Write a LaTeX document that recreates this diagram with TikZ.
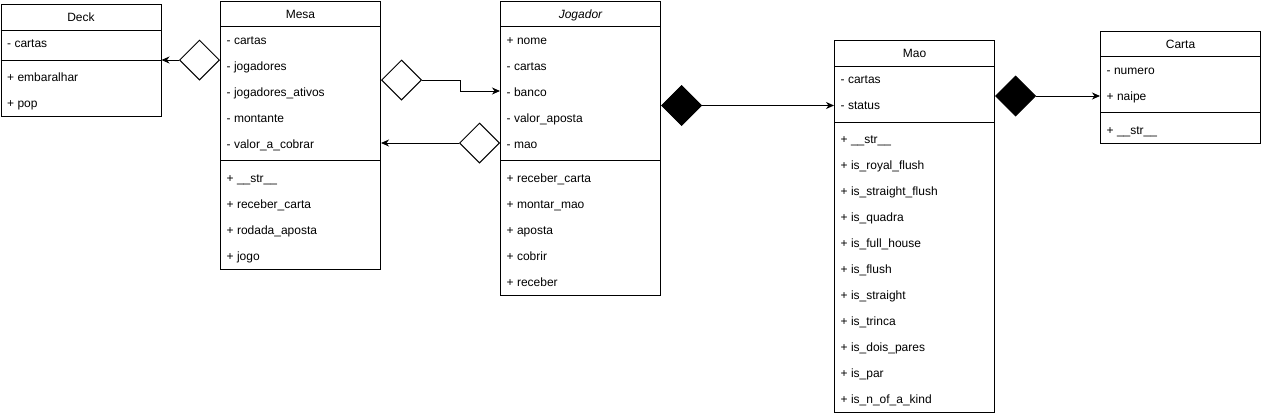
\documentclass[tikz,border=0pt]{standalone}
\usepackage{fontspec}
\setmainfont{Liberation Sans}
\usetikzlibrary{shapes.geometric,arrows.meta}
\tikzset{
 box/.style={draw, line width=1pt, minimum width=160pt, inner sep=0pt, anchor=north west},
 ttl/.style={font=\fontsize{12}{14}\selectfont, inner sep=0pt, anchor=base},
 mem/.style={font=\fontsize{12}{14}\selectfont, inner sep=0pt, anchor=base west},
 sepline/.style={line width=1pt},
 odia/.style={diamond, draw, fill=white, line width=1pt, minimum width=40pt, minimum height=40pt, inner sep=0pt},
 fdia/.style={odia, fill=black},
 arr/.style={line width=1pt, -{Stealth[length=8pt,width=7pt,inset=2.5pt]}},
}
\newcommand{\umlclass}[8]{%
 \pgfmathsetmacro\hh{26+26*#5+8+26*#7}%
 \node[box, minimum height=\hh pt] (#1) at (#2,#3) {};
 \node[ttl] (#1-t) at ([yshift=-17.5pt]#1.north) {#4};
 \draw[sepline] ([yshift=-26pt]#1.north west) -- ([yshift=-26pt]#1.north east);
 \foreach \t [count=\i] in {#6} {\node[mem] (#1-a\i) at ([xshift=6.5pt,yshift={-(17.5+26*\i)*1pt}]#1.north west) {\t};}
 \draw[sepline] ([yshift={-(30+26*#5)*1pt}]#1.north west) -- ([yshift={-(30+26*#5)*1pt}]#1.north east);
 \foreach \t [count=\i] in {#8} {\node[mem] (#1-m\i) at ([xshift=6.5pt,yshift={-(25.5+26*#5+26*\i)*1pt}]#1.north west) {\t};}
}
\begin{document}
\begin{tikzpicture}[x=1pt,y=-1pt]
\useasboundingbox (0,0) rectangle (1261,416);
\umlclass{deck}{0.5}{4}{Deck}{1}{- cartas}{2}{+ embaralhar,+ pop}
\umlclass{mesa}{220}{0.5}{Mesa}{5}{- cartas,- jogadores,- jogadores\_ativos,- montante,- valor\_a\_cobrar}{4}{+ \_\_str\_\_,+ receber\_carta,+ rodada\_aposta,+ jogo}
\umlclass{jog}{500}{0.5}{\itshape Jogador}{5}{+ nome,- cartas,- banco,- valor\_aposta,- mao}{5}{+ receber\_carta,+ montar\_mao,+ aposta,+ cobrir,+ receber}
\umlclass{mao}{834}{40}{Mao}{2}{- cartas,- status}{11}{+ \_\_str\_\_,+ is\_royal\_flush,+ is\_straight\_flush,+ is\_quadra,+ is\_full\_house,+ is\_flush,+ is\_straight,+ is\_trinca,+ is\_dois\_pares,+ is\_par,+ is\_n\_of\_a\_kind}
\umlclass{carta}{1100}{30.5}{Carta}{2}{- numero,+ naipe}{1}{+ \_\_str\_\_}
% connectors
\coordinate (y60) at (0,60);
\coordinate (y80) at (0,80);
\coordinate (y143) at (0,143);
\coordinate (y105) at (0,105.5);
\coordinate (y96) at (0,96);
\node[odia, anchor=east] (d1) at (mesa.west |- y60) {};
\draw[arr] (d1.west) -- (d1.west -| deck.east);
\node[odia, anchor=west] (d2) at (mesa.east |- y80) {};
\coordinate (k2) at (460,80);
\coordinate (y91) at (0,91);
\draw[arr] (d2.east) -- (k2) |- (jog.west |- y91);
\node[odia, anchor=east] (d3) at (jog.west |- y143) {};
\draw[arr] (d3.west) -- (d3.west -| mesa.east);
\node[fdia, anchor=west] (d4) at (jog.east |- y105) {};
\draw[arr] (d4.east) -- (d4.east -| mao.west);
\node[fdia, anchor=west] (d5) at (mao.east |- y96) {};
\draw[arr] (d5.east) -- (d5.east -| carta.west);
\end{tikzpicture}
\end{document}
